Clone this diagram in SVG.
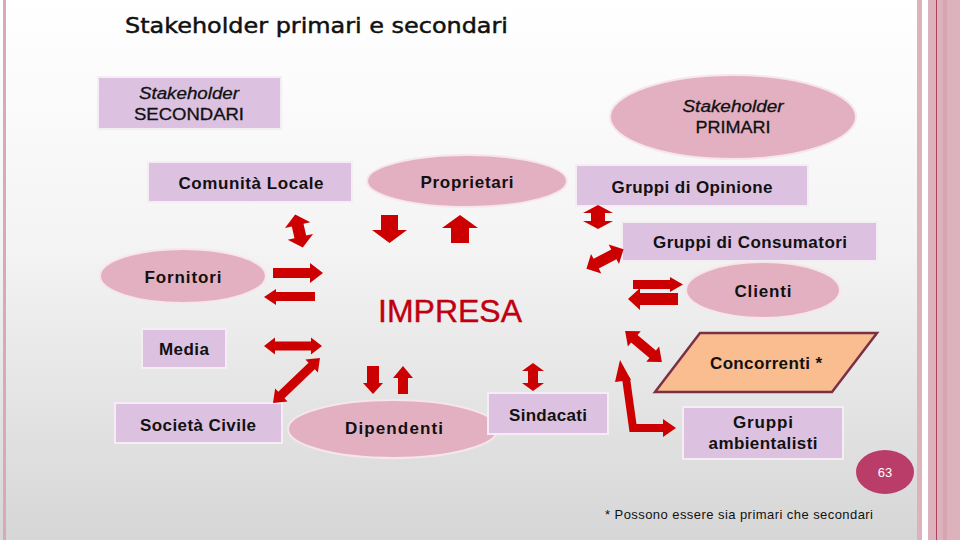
<svg xmlns="http://www.w3.org/2000/svg" width="960" height="540" viewBox="0 0 960 540">
<defs>
<linearGradient id="bg" x1="0" y1="0" x2="0" y2="1">
<stop offset="0" stop-color="#ffffff"/>
<stop offset="0.45" stop-color="#f4f4f4"/>
<stop offset="1" stop-color="#d6d6d6"/>
</linearGradient>
<style>
.box{fill:#dcc1e1;stroke:#f4eef4;stroke-width:2}
.ell{fill:#e3b0c2;stroke:#f6e6ec;stroke-width:2}
.lbl{font-family:"Liberation Sans",Arial,sans-serif;font-size:17px;font-weight:bold;fill:#111;text-anchor:middle}
.sh{font-family:"Liberation Sans",Arial,sans-serif;font-size:16px;fill:#111;text-anchor:middle;stroke:#111;stroke-width:0.3}
.it{font-style:italic}
.arr{fill:#cc0000}
</style>
</defs>
<rect x="0" y="0" width="960" height="540" fill="url(#bg)"/>
<rect x="3" y="0" width="3" height="540" fill="#d9a9b6"/>
<rect x="917" y="0" width="5" height="540" fill="#dcb2bd"/>
<rect x="922" y="0" width="6" height="540" fill="#ffffff"/>
<rect x="928" y="0" width="32" height="540" fill="#dcb2bd"/>
<rect x="936" y="0" width="1" height="540" fill="#b0405a"/>
<rect x="943" y="0" width="4" height="540" fill="#d5a5b2"/>

<text x="125" y="33" font-family="DejaVu Sans, sans-serif" font-size="22" fill="#111" stroke="#111" stroke-width="0.5" textLength="383" lengthAdjust="spacingAndGlyphs">Stakeholder primari e secondari</text>

<g id="stakeholder-secondari">
<rect class="box" x="98" y="77" width="183" height="52"/>
<text class="sh it" x="189" y="99" textLength="100" lengthAdjust="spacingAndGlyphs">Stakeholder</text>
<text class="sh" x="189" y="120" textLength="110" lengthAdjust="spacingAndGlyphs">SECONDARI</text>
</g>
<g id="stakeholder-primari">
<ellipse class="ell" cx="733" cy="117" rx="123" ry="42"/>
<text class="sh it" x="733" y="112" textLength="101" lengthAdjust="spacingAndGlyphs">Stakeholder</text>
<text class="sh" x="733" y="133" textLength="75" lengthAdjust="spacingAndGlyphs">PRIMARI</text>
</g>
<g id="comunita-locale">
<rect class="box" x="148" y="162" width="204" height="40"/>
<text class="lbl" x="251" y="189" textLength="145">Comunità Locale</text>
</g>
<g id="proprietari">
<ellipse class="ell" cx="467" cy="181" rx="100" ry="26"/>
<text class="lbl" x="467" y="188" textLength="93">Proprietari</text>
</g>
<g id="gruppi-opinione">
<rect class="box" x="576" y="165" width="232" height="41"/>
<text class="lbl" x="692" y="193" textLength="161">Gruppi di Opinione</text>
</g>
<g id="gruppi-consumatori">
<rect class="box" x="622" y="222" width="255" height="39"/>
<text class="lbl" x="750" y="248" textLength="194">Gruppi di Consumatori</text>
</g>
<g id="fornitori">
<ellipse class="ell" cx="183" cy="276" rx="83" ry="27"/>
<text class="lbl" x="183" y="283" textLength="77">Fornitori</text>
</g>
<g id="media">
<rect class="box" x="142" y="329" width="84" height="39"/>
<text class="lbl" x="184" y="355" textLength="50">Media</text>
</g>
<g id="impresa">
<text x="450" y="322" font-family="Liberation Sans, Arial, sans-serif" font-size="32" fill="#c00010" stroke="#c00010" stroke-width="0.4" text-anchor="middle" textLength="144">IMPRESA</text>
</g>
<g id="clienti">
<ellipse class="ell" cx="763" cy="290" rx="77" ry="28"/>
<text class="lbl" x="763" y="297" textLength="57">Clienti</text>
</g>
<g id="concorrenti">
<polygon points="700,333 877,333 832,392 655,392" fill="#f9bd90" stroke="#7a3045" stroke-width="2.5"/>
<text class="lbl" x="766" y="369" textLength="112">Concorrenti *</text>
</g>
<g id="societa-civile">
<rect class="box" x="115" y="403" width="167" height="40"/>
<text class="lbl" x="198" y="431" textLength="116">Società Civile</text>
</g>
<g id="dipendenti">
<ellipse class="ell" cx="393" cy="429" rx="105" ry="29"/>
<text class="lbl" x="394" y="434" textLength="98">Dipendenti</text>
</g>
<g id="sindacati">
<rect class="box" x="488" y="393" width="120" height="41"/>
<text class="lbl" x="548" y="421" textLength="78">Sindacati</text>
</g>
<g id="gruppi-ambientalisti">
<rect class="box" x="683" y="407" width="160" height="52"/>
<text class="lbl" x="763" y="428" textLength="60">Gruppi</text>
<text class="lbl" x="763" y="449" textLength="109">ambientalisti</text>
</g>
<g id="page-number">
<ellipse cx="885" cy="472" rx="29" ry="22" fill="#b93d68"/>
<text x="885" y="477" font-family="Liberation Sans, Arial, sans-serif" font-size="13" fill="#fff" text-anchor="middle">63</text>
</g>
<text x="605" y="519" font-family="Liberation Sans, Arial, sans-serif" font-size="13" fill="#111" textLength="268">* Possono essere sia primari che secondari</text>

<g id="connectors">
<polygon class="arr" transform="translate(299,231) rotate(77)" points="-17,0 -6,-13 -6,-6 6,-6 6,-13 17,0 6,13 6,6 -6,6 -6,13"/>
<polygon class="arr" points="381,215 398,215 398,230 407,230 389.5,243 372,230 381,230"/>
<polygon class="arr" points="460,215 478,228 469,228 469,243 451,243 451,228 442,228"/>
<polygon class="arr" transform="translate(598,217) rotate(90)" points="-12,0 -4,-15 -4,-7 4,-7 4,-15 12,0 4,15 4,7 -4,7 -4,15"/>
<polygon class="arr" transform="translate(605,259) rotate(-28)" points="-21,0 -10,-11 -10,-5.5 10,-5.5 10,-11 21,0 10,11 10,5.5 -10,5.5 -10,11"/>
<polygon class="arr" points="273,268 310,268 310,263 323,273 310,283 310,278 273,278"/>
<polygon class="arr" points="315,292 276,292 276,289 264,297 276,305 276,301 315,301"/>
<polygon class="arr" points="264,346 275,337.5 275,341.5 311,341.5 311,337.5 322,346 311,354.5 311,350.5 275,350.5 275,354.5"/>
<polygon class="arr" transform="translate(296.5,380.5) rotate(-43.8)" points="-32.5,0 -21,-9 -21,-4.5 21,-4.5 21,-9 32.5,0 21,9 21,4.5 -21,4.5 -21,9"/>
<polygon class="arr" points="633,280 670,280 670,277 683,284.5 670,292 670,289 633,289"/>
<polygon class="arr" points="678,293 640,293 640,288 628,299 640,310 640,305 678,305"/>
<polygon class="arr" transform="translate(643.5,346.5) rotate(40)" points="-24,0 -12,-10 -12,-5 12,-5 12,-10 24,0 12,10 12,5 -12,5 -12,10"/>
<polyline points="626,378 633,428 664,428" fill="none" stroke="#cc0000" stroke-width="8" stroke-linejoin="miter"/>
<polygon class="arr" points="620,360 631,380 615,382"/>
<polygon class="arr" points="676,428 663,419 663,437"/>
<polygon class="arr" transform="translate(533,377) rotate(90)" points="-14,0 -6,-11 -6,-5 6,-5 6,-11 14,0 6,11 6,5 -6,5 -6,11"/>
<polygon class="arr" points="367,366 379,366 379,383 383,383 373,394 363,383 367,383"/>
<polygon class="arr" points="403,366 413,378 408,378 408,394 398,394 398,378 393,378"/>
</g>
</svg>
